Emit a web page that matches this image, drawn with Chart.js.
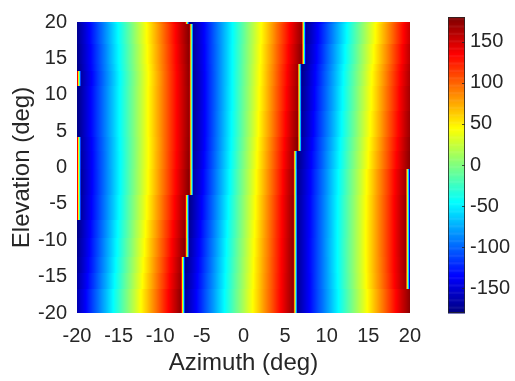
<!DOCTYPE html>
<html>
<head>
<meta charset="utf-8">
<script src="https://cdn.jsdelivr.net/npm/chart.js@4.4.1/dist/chart.umd.min.js"></script>
<style>
  html, body { margin: 0; padding: 0; background: #fff; }
  #wrap { position: relative; width: 515px; height: 381px; }
  #main { position: absolute; left: 0; top: 0; }
  #cbar { position: absolute; left: 432px; top: 0; }
</style>
</head>
<body>
<div id="wrap">
  <canvas id="main" width="432" height="381"></canvas>
  <canvas id="cbar" width="83" height="381"></canvas>
</div>
<script>
// azimuth samples (deg), one value per column
const azimuth = [-20,-19.5,-19,-18.5,-18,-17.5,-17,-16.5,-16,-15.5,-15,-14.5,-14,-13.5,-13,-12.5,-12,-11.5,-11,-10.5,
  -10,-9.5,-9,-8.5,-8,-7.5,-7,-6.5,-6,-5.5,-5,-4.5,-4,-3.5,-3,-2.5,-2,-1.5,-1,-0.5,
  0,0.5,1,1.5,2,2.5,3,3.5,4,4.5,5,5.5,6,6.5,7,7.5,8,8.5,9,9.5,10,10.5,11,11.5,12,12.5,13,13.5,14,14.5,
  15,15.5,16,16.5,17,17.5,18,18.5,19,19.5,20];

// elevation bands (deg), top to bottom; one phase row per band
const elevationEdges = [20, 19.75, 17, 14.25, 13.25, 11.25, 7.75, 4.25, 2.25, -0.25, -3.75, -7.25, -9.75, -12.25, -14.5, -16.75, -20];

// phase (deg), per elevation band
const band01 = [-172,-159,-146,-133,-120,-107,-94,-81,-67,-54,-41,-28,-15,-2,11,24,37,50,63,77,90,103,116,129,142,155,168,
  -179,-166,-153,-140,-127,-114,-101,-88,-75,-63,-50,-37,-24,-11,2,15,28,41,54,66,79,92,105,118,131,144,157,170,
  -177,-164,-151,-138,-125,-112,-99,-85,-72,-59,-46,-33,-20,-7,7,20,33,46,59,72,85,99,112,125,138,151];
const band02 = [-175,-162,-149,-135,-122,-109,-96,-83,-70,-57,-44,-31,-18,-5,9,22,35,48,61,74,87,100,113,126,139,153,166,179,
  -168,-155,-142,-129,-116,-102,-89,-76,-63,-50,-37,-24,-11,3,16,29,42,55,68,81,95,108,121,134,147,160,173,
  -173,-160,-147,-134,-121,-108,-95,-82,-69,-56,-43,-29,-16,-3,10,23,36,49,62,75,88,101,115,128,141,154];
const band03 = [-177,-164,-151,-138,-125,-112,-99,-86,-72,-59,-46,-33,-20,-7,6,19,33,46,59,72,85,98,111,124,137,151,164,177,
  -170,-156,-143,-130,-116,-103,-90,-76,-63,-49,-36,-23,-9,4,17,31,44,58,71,84,98,111,124,138,151,164,178,
  -169,-156,-143,-130,-117,-103,-90,-77,-64,-51,-38,-25,-12,2,15,28,41,54,67,80,93,107,120,133,146,159];
const band04 = [-179,-166,-152,-139,-126,-113,-100,-87,-74,-61,-47,-34,-21,-8,5,18,31,44,57,71,84,97,110,123,136,149,162,176,
  -171,-157,-144,-130,-117,-103,-90,-76,-63,-49,-36,-22,-8,5,19,32,46,59,73,86,100,114,127,141,154,168,
  -179,-166,-152,-139,-126,-113,-100,-87,-74,-60,-47,-34,-21,-8,5,18,32,45,58,71,84,97,110,124,137,150,163];
const band05 = [179,-168,-155,-142,-129,-115,-102,-89,-76,-63,-49,-36,-23,-10,3,16,30,43,56,69,82,96,109,122,135,148,162,175,
  -172,-158,-145,-131,-117,-104,-90,-76,-63,-49,-35,-22,-8,5,19,33,46,60,74,87,101,115,128,142,155,169,
  -177,-164,-151,-138,-125,-111,-98,-85,-72,-59,-45,-32,-19,-6,7,20,34,47,60,73,86,100,113,126,139,152,165];
const band06 = [-179,-166,-153,-139,-126,-113,-100,-87,-74,-61,-48,-35,-22,-9,4,17,30,44,57,70,83,96,109,122,135,148,161,174,
  -172,-159,-145,-131,-117,-104,-90,-76,-62,-49,-35,-21,-7,6,20,34,48,61,75,89,103,116,130,144,157,171,
  -175,-162,-149,-136,-122,-109,-96,-83,-70,-56,-43,-30,-17,-4,10,23,36,49,62,76,89,102,115,128,142,155,168];
const band07 = [-179,-166,-153,-139,-126,-113,-100,-87,-74,-61,-48,-35,-22,-9,4,17,30,44,57,70,83,96,109,122,135,148,161,174,
  -172,-158,-144,-131,-117,-103,-89,-75,-61,-47,-34,-20,-6,8,22,36,50,64,77,91,105,119,133,147,161,174,
  -172,-159,-146,-133,-119,-106,-93,-80,-67,-53,-40,-27,-14,-1,13,26,39,52,65,78,92,105,118,131,144,158,171];
const band08 = [179,-168,-155,-142,-129,-115,-102,-89,-76,-63,-49,-36,-23,-10,3,16,30,43,56,69,82,96,109,122,135,148,162,175,
  -172,-158,-144,-130,-116,-102,-88,-74,-60,-46,-32,-18,-4,11,25,39,53,67,81,95,109,123,137,151,165,179,
  -168,-155,-142,-129,-115,-102,-89,-76,-63,-49,-36,-23,-10,3,16,30,43,56,69,82,96,109,122,135,148,162,175];
const band09 = [177,-169,-156,-143,-130,-116,-103,-90,-76,-63,-50,-37,-23,-10,3,17,30,43,56,70,83,96,110,123,136,149,163,176,
  -170,-156,-142,-128,-114,-100,-86,-72,-58,-44,-30,-15,-1,13,27,41,55,69,83,97,111,125,139,153,167,
  -179,-165,-152,-139,-126,-113,-100,-86,-73,-60,-47,-34,-20,-7,6,19,32,45,59,72,85,98,111,125,138,151,164,177];
const band10 = [176,-171,-157,-144,-130,-117,-103,-90,-77,-63,-50,-36,-23,-9,4,17,31,44,58,71,85,98,111,125,138,152,165,179,
  -167,-153,-139,-125,-111,-97,-83,-69,-55,-41,-26,-12,2,16,30,44,58,72,86,100,114,128,143,157,171,
  -175,-162,-149,-136,-122,-109,-96,-83,-69,-56,-43,-30,-16,-3,10,23,37,50,63,77,90,103,116,130,143,156,169,-177];
const band11 = [178,-169,-155,-142,-128,-115,-101,-88,-74,-61,-47,-34,-20,-6,7,21,34,48,61,75,88,102,115,129,142,156,169,
  -177,-163,-149,-135,-121,-107,-93,-79,-65,-51,-37,-23,-9,5,19,33,47,61,75,89,103,117,131,145,159,173,
  -173,-160,-147,-134,-120,-107,-94,-81,-67,-54,-41,-27,-14,-1,12,26,39,52,65,79,92,105,118,132,145,158,172,-175];
const band12 = [-179,-165,-151,-138,-124,-111,-97,-84,-70,-56,-43,-29,-16,-2,12,25,39,52,66,79,93,107,120,134,147,161,175,
  -172,-158,-144,-130,-116,-103,-89,-75,-61,-47,-33,-20,-6,8,22,36,49,63,77,91,105,119,132,146,160,174,
  -173,-159,-146,-133,-120,-106,-93,-80,-67,-53,-40,-27,-14,0,13,26,40,53,66,79,93,106,119,132,146,159,172,-175];
const band13 = [-176,-162,-149,-135,-121,-108,-94,-80,-67,-53,-40,-26,-12,1,15,29,42,56,70,83,97,110,124,138,151,165,179,
  -168,-154,-140,-127,-113,-99,-86,-72,-58,-44,-31,-17,-3,10,24,38,51,65,79,92,106,120,133,147,161,175,
  -172,-159,-146,-132,-119,-106,-93,-79,-66,-53,-40,-26,-13,0,13,26,40,53,66,79,93,106,119,132,146,159,172,-175];
const band14 = [-173,-160,-146,-132,-119,-105,-91,-78,-64,-50,-36,-23,-9,5,18,32,46,59,73,87,100,114,128,141,155,169,
  -178,-164,-151,-137,-124,-110,-97,-83,-69,-56,-42,-29,-15,-2,12,25,39,53,66,80,93,107,120,134,147,161,175,
  -172,-159,-146,-132,-119,-106,-93,-80,-66,-53,-40,-27,-13,0,13,26,39,53,66,79,92,105,119,132,145,158,172,-175];
const band15 = [-169,-155,-142,-128,-115,-101,-87,-74,-60,-46,-33,-19,-5,8,22,35,49,63,76,90,104,117,131,145,158,172,
  -175,-161,-148,-134,-121,-107,-94,-81,-67,-54,-40,-27,-13,0,13,27,40,54,67,81,94,107,121,134,148,161,175,
  -172,-159,-146,-133,-119,-106,-93,-80,-67,-54,-41,-27,-14,-1,12,25,38,52,65,78,91,104,117,131,144,157,170,-177];
const band16 = [-164,-150,-137,-123,-109,-96,-82,-69,-55,-41,-28,-14,-1,13,26,40,54,67,81,94,108,122,135,149,162,176,
  -171,-157,-144,-131,-118,-104,-91,-78,-64,-51,-38,-25,-11,2,15,29,42,55,68,82,95,108,122,135,148,161,175,
  -172,-159,-146,-133,-120,-107,-95,-82,-69,-56,-43,-30,-17,-4,9,22,35,48,61,74,87,100,113,126,139,152,164,177];
const phaseRows = [band01, band02, band03, band04, band05, band06, band07, band08,
  band09, band10, band11, band12, band13, band14, band15, band16];

const azTicks = [-20, -15, -10, -5, 0, 5, 10, 15, 20];
const elTicks = [-20, -15, -10, -5, 0, 5, 10, 15, 20];
const colorTicks = [-150, -100, -50, 0, 50, 100, 150];
const phaseMin = -180;
const phaseMax = 180;

const FONT = "'Liberation Sans', Arial, sans-serif";
const INK = '#262626';

phaseRows.forEach((r, i) => { if (r.length !== azimuth.length) console.warn('band', i + 1, 'has', r.length); });

// matlab style jet colormap
function jet(v) {
  const t = Math.min(1, Math.max(0, (v - phaseMin) / (phaseMax - phaseMin)));
  const c = k => Math.round(255 * Math.min(1, Math.max(0, 1.5 - Math.abs(4 * t - k))));
  return 'rgb(' + c(3) + ',' + c(2) + ',' + c(1) + ')';
}

// interpolated shading along azimuth, flat over each elevation band
const heatmap = {
  id: 'heatmap',
  beforeDatasetsDraw(chart) {
    const {ctx, chartArea: a, scales: {x, y}} = chart;
    ctx.save();
    ctx.beginPath();
    ctx.rect(a.left, a.top, a.right - a.left, a.bottom - a.top);
    ctx.clip();
    for (let r = 0; r < phaseRows.length; r++) {
      const row = phaseRows[r];
      const y0 = Math.round(y.getPixelForValue(elevationEdges[r]));
      const y1 = Math.round(y.getPixelForValue(elevationEdges[r + 1]));
      let j = 0;
      for (let px = Math.floor(a.left); px < Math.ceil(a.right); px++) {
        const az = x.getValueForPixel(px + 0.5);
        while (j < azimuth.length - 2 && az > azimuth[j + 1]) j++;
        let t = (az - azimuth[j]) / (azimuth[j + 1] - azimuth[j]);
        t = Math.min(1, Math.max(0, t));
        ctx.fillStyle = jet(row[j] + t * (row[j + 1] - row[j]));
        ctx.fillRect(px, y0, 1, y1 - y0);
      }
    }
    ctx.restore();
  }
};

new Chart(document.getElementById('main'), {
  type: 'scatter',
  data: { datasets: [{ data: [], pointRadius: 0 }] },
  options: {
    responsive: false,
    animation: false,
    layout: { padding: { top: 14, right: 6, bottom: 0, left: 0 } },
    plugins: { legend: { display: false }, tooltip: { enabled: false } },
    scales: {
      x: {
        type: 'linear', min: -20, max: 20,
        grid: { display: false, drawTicks: false },
        border: { display: false },
        afterBuildTicks: s => { s.ticks = azTicks.map(v => ({ value: v })); },
        afterFit: s => { s.height = 68; },
        ticks: { font: { family: FONT, size: 20 }, color: INK, padding: 11, maxRotation: 0, autoSkip: false },
        title: { display: true, text: 'Azimuth (deg)', color: INK, font: { family: FONT, size: 24 }, padding: { top: 0, bottom: 3 } }
      },
      y: {
        type: 'linear', min: -20, max: 20,
        grid: { display: false, drawTicks: false },
        border: { display: false },
        afterBuildTicks: s => { s.ticks = elTicks.map(v => ({ value: v })); },
        afterFit: s => { s.width = 77; },
        ticks: { font: { family: FONT, size: 20 }, color: INK, padding: 10, autoSkip: false },
        title: { display: true, text: 'Elevation (deg)', color: INK, font: { family: FONT, size: 24 }, padding: { top: 8, bottom: 0 } }
      }
    }
  },
  plugins: [heatmap]
});

// colour bar: 256 jet levels on the phase scale
const colorbar = {
  id: 'colorbar',
  beforeDatasetsDraw(chart) {
    const {ctx, chartArea: a, scales: {y}} = chart;
    const n = 256;
    const step = (phaseMax - phaseMin) / n;
    for (let k = 0; k < n; k++) {
      const v0 = phaseMin + k * step;
      const yt = y.getPixelForValue(v0 + step);
      const yb = y.getPixelForValue(v0);
      ctx.fillStyle = jet(v0 + step / 2);
      ctx.fillRect(a.left, yt, a.right - a.left, yb - yt + 0.5);
    }
    ctx.strokeStyle = INK;
    ctx.lineWidth = 0.8;
    ctx.beginPath();
    colorTicks.forEach(v => {
      const py = Math.round(y.getPixelForValue(v)) + 0.5;
      ctx.moveTo(a.right - 3, py);
      ctx.lineTo(a.right, py);
    });
    ctx.stroke();
    ctx.strokeRect(a.left + 0.5, a.top + 0.5, a.right - a.left - 1, a.bottom - a.top - 1);
  }
};

new Chart(document.getElementById('cbar'), {
  type: 'scatter',
  data: { datasets: [{ data: [], pointRadius: 0 }] },
  options: {
    responsive: false,
    animation: false,
    layout: { padding: { top: 14, right: 0, bottom: 68, left: 16 } },
    plugins: { legend: { display: false }, tooltip: { enabled: false } },
    scales: {
      x: { type: 'linear', min: 0, max: 1, display: false },
      y: {
        type: 'linear', position: 'right', min: phaseMin, max: phaseMax,
        grid: { display: false, drawTicks: false },
        border: { display: false },
        afterBuildTicks: s => { s.ticks = colorTicks.map(v => ({ value: v })); },
        afterFit: s => { s.width = 50; },
        ticks: { font: { family: FONT, size: 20 }, color: INK, padding: 5, autoSkip: false }
      }
    }
  },
  plugins: [colorbar]
});
</script>
</body>
</html>
